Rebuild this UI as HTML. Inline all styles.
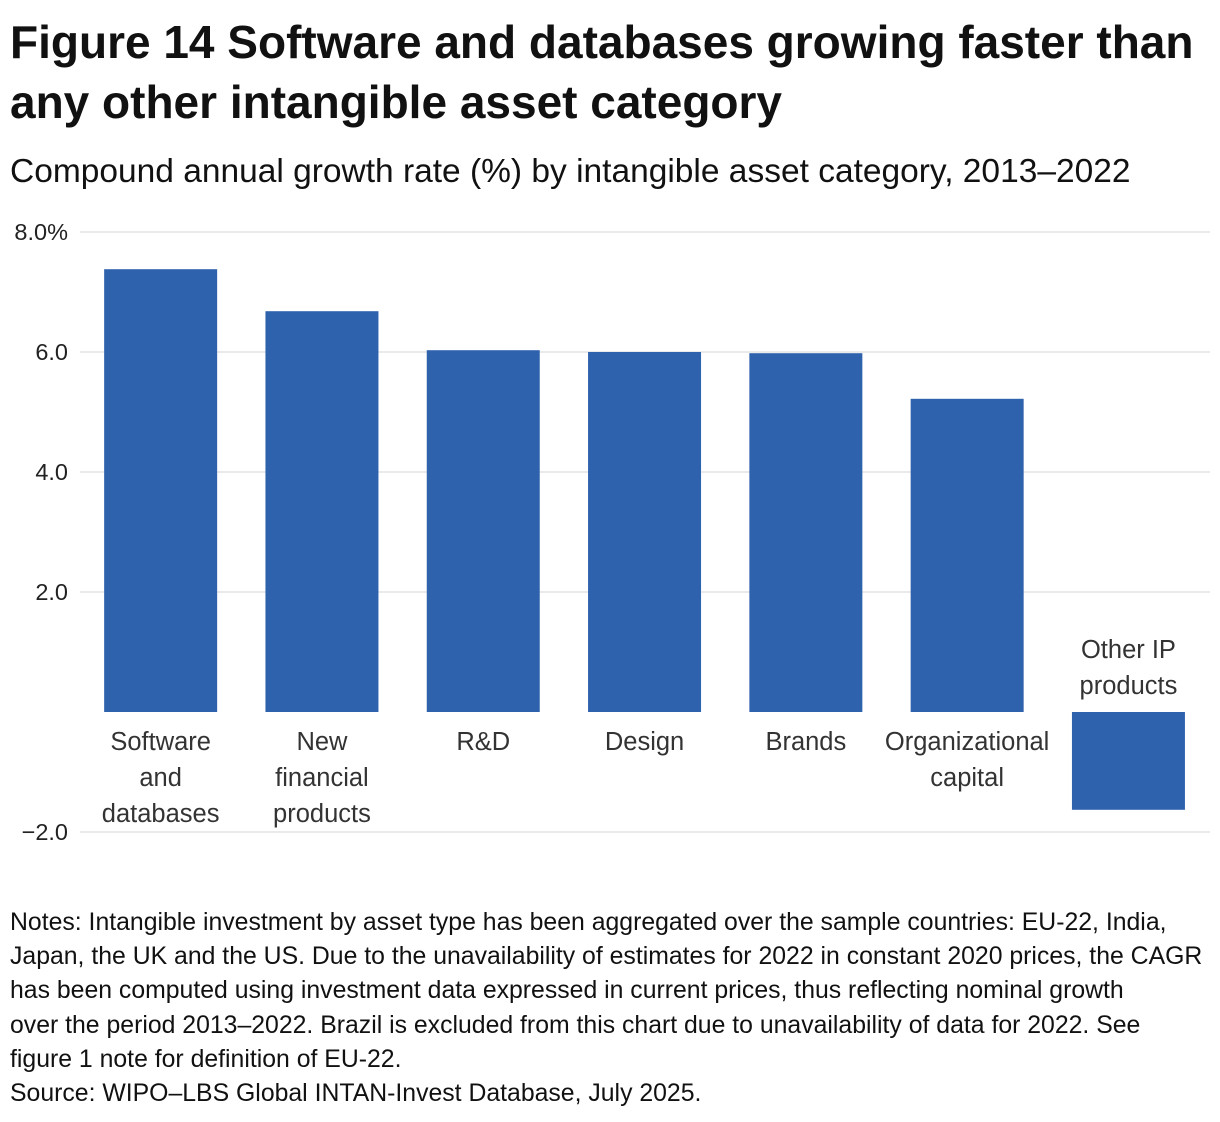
<!DOCTYPE html>
<html><head><meta charset="utf-8"><style>
body{margin:0;width:1220px;height:1122px;background:#fff;font-family:"Liberation Sans",sans-serif;color:#111;position:relative;overflow:hidden}
#title{position:absolute;left:10px;top:12px;font-size:46px;font-weight:bold;line-height:60px;width:1215px;white-space:nowrap}
#sub{position:absolute;left:10px;top:152px;font-size:33.5px;line-height:40px;white-space:nowrap}
#notes{position:absolute;left:10px;top:906px;font-size:24.8px;line-height:34.2px;width:1215px;white-space:nowrap}
svg{position:absolute;left:0;top:0}
</style></head><body>
<div id="title">Figure 14 Software and databases growing faster than<br>any other intangible asset category</div>
<div id="sub">Compound annual growth rate (%) by intangible asset category, 2013–2022</div>
<svg id="chart" width="1220" height="1122"></svg>
<div id="notes">Notes: Intangible investment by asset type has been aggregated over the sample countries: EU-22, India,<br>Japan, the UK and the US. Due to the unavailability of estimates for 2022 in constant 2020 prices, the CAGR<br>has been computed using investment data expressed in current prices, thus reflecting nominal growth<br>over the period 2013–2022. Brazil is excluded from this chart due to unavailability of data for 2022. See<br>figure 1 note for definition of EU-22.<br>Source: WIPO–LBS Global INTAN-Invest Database, July 2025.</div>
<script>
const categories=[["Software","and","databases"],["New","financial","products"],["R&D"],["Design"],["Brands"],["Organizational","capital"],["Other IP","products"]];
const values=[7.38,6.68,6.03,6.0,5.98,5.22,-1.63];
const ticks=[8,6,4,2,-2];
const tickLabels=["8.0%","6.0","4.0","2.0","−2.0"];
const NS="http://www.w3.org/2000/svg";
const svg=document.getElementById('chart');
const y=v=>712-v*60;
const x0=80,band=161.3,bw=113;
const xc=i=>x0+band*(i+0.5);
function mk(t,a){const e=document.createElementNS(NS,t);for(const k in a)e.setAttribute(k,a[k]);svg.appendChild(e);return e;}
ticks.forEach((t,i)=>{
 const g=mk('line',{x1:80,x2:1210,y1:y(t),y2:y(t),stroke:'#ddd','stroke-width':1.3});
 
 
 const l=mk('text',{x:68,y:y(t)+8,'text-anchor':'end','font-size':23.5,fill:'#222'});
 l.textContent=tickLabels[i];
 
 
});
values.forEach((v,i)=>{
 const top=Math.min(y(v),y(0)),h=Math.abs(y(v)-y(0));
 const r=mk('rect',{x:xc(i)-bw/2,y:top,width:bw,height:h,fill:'#2f62ad'});
 
 
 const lines=categories[i];
 const startY=v>=0?y(0)+38:y(0)-18-(lines.length-1)*36;
 lines.forEach((s,j)=>{
  const t=mk('text',{x:xc(i),y:startY+j*36,'text-anchor':'middle','font-size':25.5,fill:'#333'});
  t.textContent=s;
  
  
 });
});
</script>
</body></html>
